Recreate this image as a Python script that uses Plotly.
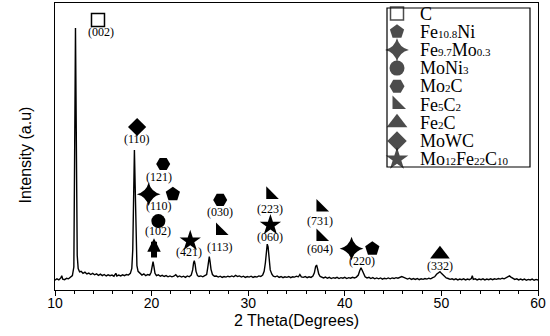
import plotly.graph_objects as go

# ---------------- data ----------------
two_theta = [
    10.0, 10.2, 10.4, 10.6, 10.7, 10.8, 11.0, 11.2, 11.4, 11.6, 11.8, 11.95, 12.02, 12.08, 12.12, 12.17,
    12.22, 12.3, 12.4, 12.55, 12.7, 12.9, 13.1, 13.3, 13.5, 13.7, 13.9, 14.1, 14.3, 14.5, 14.7, 14.9,
    15.1, 15.3, 15.5, 15.7, 15.9, 16.1, 16.3, 16.4, 16.6, 16.8, 17.0, 17.2, 17.4, 17.6, 17.8, 17.95,
    18.05, 18.15, 18.22, 18.3, 18.38, 18.48, 18.6, 18.8, 19.0, 19.2, 19.4, 19.6, 19.8, 19.95, 20.08, 20.15,
    20.25, 20.35, 20.5, 20.7, 20.9, 21.1, 21.3, 21.5, 21.7, 21.9, 22.1, 22.3, 22.5, 22.7, 22.9, 23.1,
    23.3, 23.5, 23.7, 23.9, 24.1, 24.25, 24.35, 24.42, 24.5, 24.6, 24.75, 24.9, 25.1, 25.3, 25.5, 25.7,
    25.82, 25.9, 25.97, 26.05, 26.15, 26.3, 26.5, 26.7, 26.9, 27.1, 27.3, 27.5, 27.7, 27.9, 28.1, 28.3,
    28.5, 28.7, 28.9, 29.1, 29.3, 29.5, 29.7, 29.9, 30.1, 30.3, 30.5, 30.7, 30.9, 31.1, 31.3, 31.5,
    31.65, 31.78, 31.88, 31.97, 32.06, 32.15, 32.28, 32.45, 32.6, 32.8, 33.0, 33.2, 33.4, 33.6, 33.8, 34.0,
    34.2, 34.4, 34.6, 34.8, 35.0, 35.2, 35.35, 35.5, 35.7, 35.9, 36.1, 36.3, 36.5, 36.7, 36.85, 36.98,
    37.08, 37.18, 37.3, 37.45, 37.6, 37.8, 38.0, 38.2, 38.4, 38.6, 38.8, 39.0, 39.2, 39.4, 39.6, 39.8,
    40.0, 40.2, 40.4, 40.6, 40.8, 41.0, 41.2, 41.4, 41.55, 41.68, 41.8, 41.95, 42.1, 42.3, 42.5, 42.7,
    42.9, 43.1, 43.3, 43.5, 43.7, 43.9, 44.1, 44.3, 44.5, 44.7, 44.9, 45.1, 45.3, 45.5, 45.7, 45.9,
    46.1, 46.3, 46.5, 46.7, 46.9, 47.1, 47.3, 47.5, 47.7, 47.9, 48.1, 48.3, 48.5, 48.7, 48.9, 49.1,
    49.3, 49.5, 49.7, 49.85, 50.0, 50.15, 50.3, 50.5, 50.7, 50.9, 51.1, 51.3, 51.5, 51.7, 51.9, 52.1,
    52.3, 52.5, 52.7, 52.9, 53.1, 53.2, 53.3, 53.5, 53.7, 53.9, 54.1, 54.3, 54.5, 54.7, 54.9, 55.1,
    55.3, 55.5, 55.7, 55.9, 56.1, 56.3, 56.5, 56.7, 56.9, 57.05, 57.2, 57.4, 57.6, 57.8, 58.0, 58.2,
    58.4, 58.6, 58.8, 59.0, 59.2, 59.4, 59.6, 59.8, 60.0,
]
intensity = [
    3.4, 3.9, 3.5, 4.2, 5.0, 3.8, 3.6, 4.1, 3.9, 4.3, 5.0, 8.0, 30.0, 70.0, 91.3, 70.0,
    35.0, 12.0, 7.5, 6.3, 6.5, 5.8, 6.2, 5.6, 5.9, 5.4, 5.8, 5.3, 5.6, 5.1, 5.5, 5.0,
    5.4, 4.9, 5.3, 5.0, 5.2, 4.8, 5.8, 4.9, 5.2, 4.9, 5.3, 5.0, 5.4, 5.2, 5.8, 7.5,
    14.0, 35.0, 48.8, 36.0, 16.0, 8.5, 6.5, 5.8, 5.2, 5.6, 5.0, 5.4, 5.2, 6.2, 8.5, 9.9,
    8.0, 5.8, 5.0, 5.3, 4.8, 5.1, 4.7, 5.0, 4.6, 4.9, 4.6, 4.8, 5.3, 4.6, 4.9, 4.5,
    4.8, 4.4, 4.9, 4.6, 5.2, 7.0, 9.5, 10.2, 9.0, 6.5, 5.0, 4.7, 4.9, 4.6, 5.0, 5.4,
    8.0, 11.0, 11.6, 10.0, 7.2, 5.4, 4.8, 4.9, 4.5, 4.8, 4.4, 4.7, 4.5, 4.8, 4.6, 4.9,
    4.6, 5.1, 4.7, 4.9, 4.5, 4.8, 4.4, 4.7, 4.5, 4.8, 4.4, 4.7, 4.5, 4.9, 4.7, 5.2,
    6.5, 9.5, 14.0, 16.0, 15.0, 11.0, 7.0, 5.5, 4.8, 4.6, 4.9, 4.4, 4.7, 4.3, 4.6, 4.4,
    4.7, 4.3, 4.6, 4.5, 4.8, 4.6, 5.4, 4.6, 4.4, 4.7, 4.3, 4.6, 4.4, 4.9, 6.0, 8.2,
    8.7, 7.4, 5.6, 4.7, 4.5, 4.2, 4.5, 4.1, 4.4, 4.0, 4.3, 4.1, 4.4, 4.0, 4.3, 4.1,
    4.4, 4.0, 4.3, 4.1, 4.4, 4.2, 4.5, 5.2, 6.8, 7.7, 6.9, 5.4, 4.6, 4.2, 4.4, 4.0,
    4.3, 3.9, 4.2, 3.9, 4.2, 3.8, 4.1, 3.9, 4.2, 3.9, 4.2, 4.0, 4.3, 4.1, 4.5, 4.7,
    4.4, 4.1, 3.8, 4.1, 3.7, 4.0, 3.7, 4.0, 3.6, 3.9, 3.7, 4.0, 3.8, 4.1, 3.9, 4.3,
    4.6, 5.5, 6.2, 6.4, 5.8, 5.2, 4.6, 4.2, 4.0, 3.7, 3.9, 3.6, 3.9, 3.5, 3.8, 3.6,
    3.9, 3.5, 3.8, 3.6, 4.0, 5.0, 3.7, 3.9, 3.5, 3.8, 3.6, 3.9, 3.5, 3.8, 3.6, 3.9,
    3.6, 3.9, 3.7, 4.0, 3.8, 4.1, 3.9, 4.3, 4.6, 4.9, 4.5, 4.1, 3.7, 3.9, 3.5, 3.8,
    3.5, 3.8, 3.4, 3.7, 3.5, 3.8, 3.4, 3.7, 3.5,
]

x_tick_vals = [10, 20, 30, 40, 50, 60]
x_tick_text = ["10", "20", "30", "40", "50", "60"]

phase_names = ["C", "Fe10.8Ni", "Fe9.7Mo0.3", "MoNi3", "Mo2C", "Fe5C2", "Fe2C", "MoWC", "Mo12Fe22C10"]
phase_html = [
    "C",
    "Fe<span style='font-size:11px'>10.8</span>Ni",
    "Fe<span style='font-size:11px'>9.7</span>Mo<span style='font-size:11px'>0.3</span>",
    "MoNi<span style='font-size:11px'>3</span>",
    "Mo<span style='font-size:11px'>2</span>C",
    "Fe<span style='font-size:11px'>5</span>C<span style='font-size:11px'>2</span>",
    "Fe<span style='font-size:11px'>2</span>C",
    "MoWC",
    "Mo<span style='font-size:11px'>12</span>Fe<span style='font-size:11px'>22</span>C<span style='font-size:11px'>10</span>",
]
# peaks assigned to each phase (2theta of the marker, height of the marker above the pattern)
phase_peak_x = [[14.45], [22.2, 42.85], [19.7, 40.7], [20.7], [21.2, 27.1],
                [27.1, 32.3, 37.5, 37.5], [49.85], [18.5], [24.0, 32.3]]
phase_peak_y = [[94.1], [33.4, 14.4], [33.4, 14.4], [24.0], [43.9, 31.4],
                [20.6, 33.2, 28.8, 18.5], [12.5], [56.8], [17.1, 22.6]]

hkl_text = ["(002)", "(110)", "(121)", "(110)", "(102)", "(421)", "(030)", "(113)",
            "(223)", "(060)", "(731)", "(604)", "(220)", "(332)"]
hkl_x = [14.8, 18.5, 20.8, 20.8, 20.7, 23.9, 27.1, 27.1, 32.3, 32.3, 37.4, 37.4, 41.75, 49.85]
hkl_y = [89.9, 52.6, 39.4, 29.3, 20.5, 13.4, 27.2, 15.0, 28.3, 18.5, 24.2, 14.3, 10.2, 8.3]

# ---------------- styles ----------------
symbols = ["square-open", "pentagon", "star-diamond", "circle", "hexagon2",
           "triangle-sw", "triangle-up", "diamond", "star"]
sizes = [13, 15, 17, 14, 14, 14, 17, 14, 16]
leg_sizes = [13, 15, 17, 15, 15, 15, 18, 15, 17]

SERIF = "Liberation Serif, Times New Roman, serif"
SANS = "Liberation Sans, Arial, sans-serif"

fig = go.Figure()
fig.add_trace(go.Scatter(x=two_theta, y=intensity, mode="lines",
                         line=dict(color="black", width=1.4), showlegend=False,
                         hoverinfo="skip"))

for i, name in enumerate(phase_names):
    fig.add_trace(go.Scatter(
        x=phase_peak_x[i], y=phase_peak_y[i], mode="markers", name=name, showlegend=False,
        marker=dict(symbol=symbols[i], size=sizes[i], color="black",
                    line=dict(color="black", width=1.5 if symbols[i].endswith("open") else 0))))

# legend key drawn on an overlay axis measured in pixels of the figure
L_X, L_TEXT_X, L_Y0, L_DY = 397, 418, 13.5, 18.2
fig.add_trace(go.Scatter(
    x=[L_X] * len(phase_names), y=[L_Y0 + L_DY * i for i in range(len(phase_names))],
    mode="markers", xaxis="x2", yaxis="y2", showlegend=False, hoverinfo="skip",
    marker=dict(symbol=symbols, size=leg_sizes, color="black",
                line=dict(color="black", width=[1.5] + [0] * 8))))

annotations = []
for i, h in enumerate(phase_html):
    annotations.append(dict(x=L_TEXT_X, y=L_Y0 + L_DY * i, xref="x2", yref="y2", text=h,
                            showarrow=False, xanchor="left", yanchor="middle",
                            font=dict(family=SERIF, size=18, color="black")))
for t, xx, yy in zip(hkl_text, hkl_x, hkl_y):
    annotations.append(dict(x=xx, y=yy, xref="x", yref="y", text=t, showarrow=False,
                            font=dict(family=SERIF, size=12, color="black")))
# arrow under (102)
annotations.append(dict(x=20.25, y=18.0, ax=20.25, ay=10.8, xref="x", yref="y",
                        axref="x", ayref="y", text="", showarrow=True, arrowhead=2,
                        arrowwidth=6, arrowsize=0.45, arrowcolor="black"))
annotations.append(dict(x=0.5, y=-0.105, xref="paper", yref="paper", text="2 Theta(Degrees)",
                        showarrow=False, yanchor="middle",
                        font=dict(family=SANS, size=16, color="black")))
annotations.append(dict(x=-0.083, y=0.47, xref="paper", yref="paper", text="Intensity (a.u)",
                        showarrow=False, textangle=-90,
                        font=dict(family=SANS, size=16, color="black")))

fig.update_layout(
    width=550, height=336,
    margin=dict(l=55, r=12, t=3, b=46),
    paper_bgcolor="white", plot_bgcolor="white",
    showlegend=False,
    annotations=annotations,
    shapes=[dict(type="rect", xref="x2", yref="y2", x0=387, x1=530, y0=8, y1=167,
                 line=dict(color="black", width=1.2), fillcolor="rgba(0,0,0,0)")],
    xaxis=dict(range=[10, 60], tickvals=x_tick_vals, ticktext=x_tick_text,
               ticks="outside", ticklen=5, tickwidth=1.2, tickcolor="black",
               ticklabelstandoff=-5,
               minor=dict(dtick=2, ticks="outside", ticklen=3, tickwidth=1, tickcolor="black"),
               showline=True, linecolor="black", linewidth=1.3, mirror=True,
               showgrid=False, zeroline=False,
               tickfont=dict(family=SANS, size=14, color="black")),
    yaxis=dict(range=[0, 100], showticklabels=False, ticks="", showline=True,
               linecolor="black", linewidth=1.3, mirror=True, showgrid=False, zeroline=False),
    xaxis2=dict(range=[55, 538], overlaying="x", visible=False),
    yaxis2=dict(range=[290, 3], overlaying="y", visible=False),
)

fig.write_html("out.html", config={"displayModeBar": False},
               post_script="document.body.style.margin='0';")
